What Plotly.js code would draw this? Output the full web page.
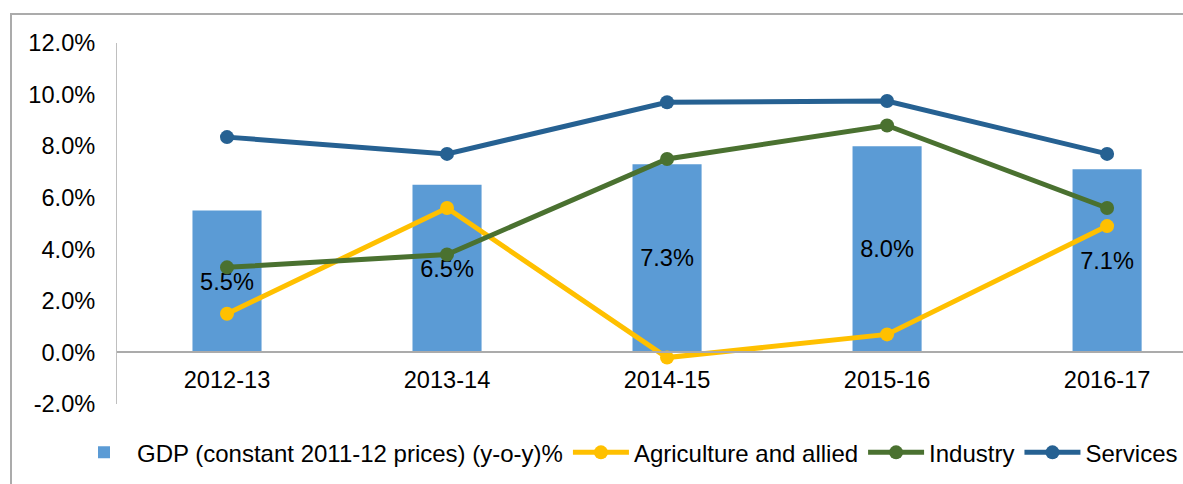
<!DOCTYPE html>
<html>
<head>
<meta charset="utf-8">
<script src="https://cdn.plot.ly/plotly-3.0.1.min.js"></script>
<style>
  html, body { margin: 0; padding: 0; background: #fff; }
  #wrap { position: relative; width: 1183px; height: 484px; overflow: hidden; }
  #chart { position: absolute; left: 0; top: 0; width: 1183px; height: 484px; }
  #frame { position: absolute; left: 10px; top: 13px; width: 1200px; height: 500px;
           border-top: 2px solid #ababab; border-left: 2px solid #ababab; pointer-events: none; }
</style>
</head>
<body>
<div id="wrap">
  <div id="chart"></div>
  <div id="frame"></div>
</div>
<script>
// ---- data ----
const years = ["2012-13", "2013-14", "2014-15", "2015-16", "2016-17"];
const gdp = [5.5, 6.5, 7.3, 8.0, 7.1];
const agriculture = [1.5, 5.6, -0.2, 0.7, 4.9];
const industry = [3.3, 3.8, 7.5, 8.8, 5.6];
const services = [8.35, 7.7, 9.7, 9.75, 7.7];
const yTickVals = [-2, 0, 2, 4, 6, 8, 10, 12];
const yTickText = ["-2.0%", "0.0%", "2.0%", "4.0%", "6.0%", "8.0%", "10.0%", "12.0%"];
const seriesNames = ["GDP (constant 2011-12 prices) (y-o-y)%", "Agriculture and allied", "Industry", "Services"];

const FONT = "Liberation Sans, Arial, sans-serif";
const FS = 23.6;
const LFS = 24;
const yMin = -2, yMax = 12;

function lineTrace(name, vals, color) {
  return {
    type: "scatter", mode: "lines+markers", name: name,
    x: years, y: vals,
    line: { color: color, width: 5 },
    marker: { color: color, size: 14 },
    hoverinfo: "skip"
  };
}

const traces = [
  {
    type: "bar", name: seriesNames[0], x: years, y: gdp,
    marker: { color: "#5B9BD5" },
    width: 0.314,
    text: gdp.map(v => v.toFixed(1) + "%"),
    textposition: "inside", insidetextanchor: "middle",
    constraintext: "none", textangle: 0,
    textfont: { family: FONT, size: FS, color: "#000" },
    hoverinfo: "skip"
  },
  lineTrace(seriesNames[1], agriculture, "#FFC000"),
  lineTrace(seriesNames[2], industry, "#4A7130"),
  lineTrace(seriesNames[3], services, "#266192")
];

const layout = {
  width: 1183, height: 484,
  margin: { l: 117, r: 0, t: 43, b: 80, pad: 0 },
  paper_bgcolor: "rgba(0,0,0,0)", plot_bgcolor: "rgba(0,0,0,0)",
  font: { family: FONT, size: FS, color: "#000" },
  showlegend: true,
  legend: {
    orientation: "h", x: -0.0345, xanchor: "left", y: -0.135, yanchor: "middle",
    font: { family: FONT, size: LFS, color: "#000" },
    itemwidth: 56, tracegroupgap: 0, traceorder: "normal",
    bgcolor: "rgba(0,0,0,0)"
  },
  xaxis: {
    type: "category", range: [-0.5, 4.345],
    anchor: "free", position: (0 - yMin) / (yMax - yMin),
    showline: true, linecolor: "#ababab", linewidth: 2,
    showgrid: false, zeroline: false, ticks: "",
    ticklabelstandoff: 6,
    tickfont: { family: FONT, size: FS, color: "#000" },
    fixedrange: true
  },
  yaxis: {
    range: [yMin, yMax], tickvals: yTickVals, ticktext: yTickText,
    showline: true, linecolor: "#bfbfbf", linewidth: 1,
    showgrid: false, zeroline: false, ticks: "",
    ticklabelstandoff: 16,
    tickfont: { family: FONT, size: FS, color: "#000" },
    fixedrange: true
  },
  bargap: 0.686
};

Plotly.newPlot("chart", traces, layout, { displayModeBar: false, staticPlot: true });
</script>
</body>
</html>
